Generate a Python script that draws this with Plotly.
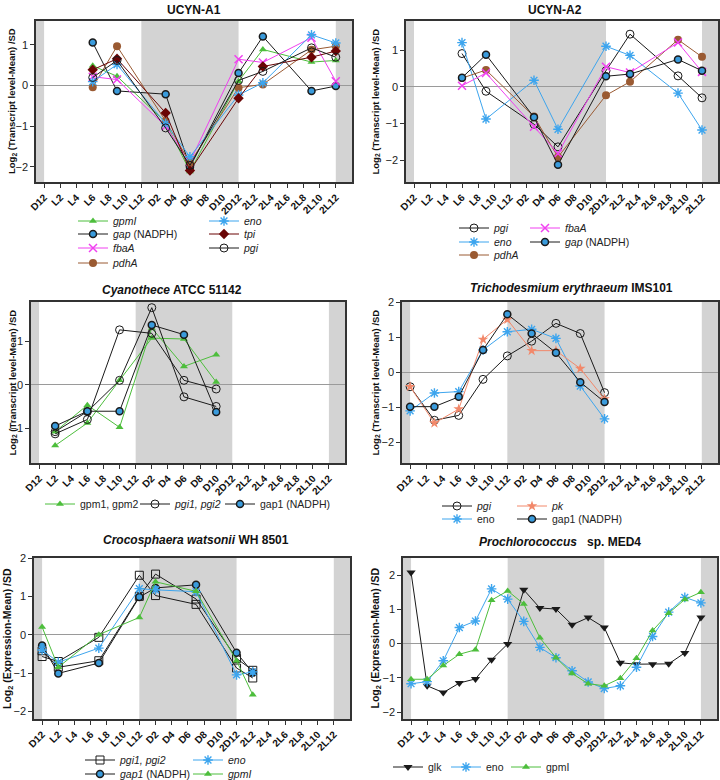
import plotly.graph_objects as go

W, H = 720, 780

# ---------------- data ----------------
tick_hours = [0, 2, 4, 6, 8, 10, 12, 14, 16, 18, 20, 22, 24, 26, 28, 30, 32, 34, 36]
tick_labels = ["D12", "L2", "L4", "L6", "L8", "L10", "L12", "D2", "D4", "D6", "D8",
               "D10", "2D12", "2L2", "2L4", "2L6", "2L8", "2L10", "2L12"]
dark_start = [-1, 12, 36]
dark_end = [0, 24, 38]

# UCYN-A1
a1_hours = [6, 9, 15, 18, 24, 27, 33, 36]
a1_gpmI = [0.49, 0.23, -0.90, -2.11, 0.11, 0.89, 0.58, 0.62]
a1_gap = [1.06, -0.13, -0.21, -2.00, 0.31, 1.21, -0.13, -0.01]
a1_fbaA = [0.22, 0.15, -1.00, -1.88, 0.65, 0.57, 1.18, 0.11]
a1_pdhA = [-0.04, 0.97, -0.87, -1.90, -0.05, 0.03, 0.88, 0.97]
a1_eno = [0.10, 0.52, -0.93, -1.75, -0.23, 0.07, 1.25, 1.05]
a1_tpi = [0.39, 0.66, -0.67, -2.09, -0.31, 0.47, 0.70, 0.85]
a1_pgi = [0.20, 0.62, -1.04, -1.96, 0.13, 0.35, 0.93, 0.70]

# UCYN-A2
a2_hours = [6, 9, 15, 18, 24, 27, 33, 36]
a2_pgi = [0.91, -0.12, -1.02, -1.64, 0.44, 1.44, 0.30, -0.30]
a2_eno = [1.21, -0.88, 0.18, -1.16, 1.11, 0.86, -0.17, -1.18]
a2_pdhA = [0.24, 0.46, -0.81, -1.92, -0.23, 0.14, 1.29, 0.82]
a2_fbaA = [0.03, 0.38, -1.09, -1.82, 0.55, 0.39, 1.21, 0.41]
a2_gap = [0.25, 0.88, -0.83, -2.13, 0.29, 0.35, 0.75, 0.44]

# Cyanothece ATCC 51142
cy_hours = [2, 6, 10, 14, 18, 22]
cy_gpm1 = [-1.08, -0.47, -0.98, 1.30, 0.42, 0.69]
cy_gpm2 = [-1.40, -0.88, 0.10, 1.07, 1.05, 0.06]
cy_pgi1 = [-1.13, -0.80, 1.26, 1.18, 0.10, -0.10]
cy_pgi2 = [-1.08, -0.62, 0.10, 1.77, -0.28, -0.50]
cy_gap1 = [-0.95, -0.61, -0.61, 1.37, 1.15, -0.63]

# Trichodesmium erythraeum IMS101
tr_hours = [0, 3, 6, 9, 12, 15, 18, 21, 24]
tr_pgi = [-0.42, -1.38, -1.24, -0.21, 0.46, 0.88, 1.39, 1.10, -0.59]
tr_eno = [-1.11, -0.60, -0.56, 0.63, 1.15, 1.22, 0.96, -0.40, -1.34]
tr_pk = [-0.42, -1.46, -1.06, 0.93, 1.50, 0.61, 0.61, 0.10, -0.77]
tr_gap1 = [-0.99, -0.99, -0.71, 0.63, 1.65, 1.10, 0.55, -0.29, -0.86]

# Crocosphaera watsonii WH 8501
cr_hours = [0, 2, 7, 12, 14, 19, 24, 26]
cr_pgi1 = [-0.57, -0.70, -0.07, 1.55, 1.02, 0.79, -0.87, -1.13]
cr_pgi2 = [-0.42, -0.85, -0.68, 1.00, 1.58, 0.93, -0.62, -0.93]
cr_gap1 = [-0.28, -1.01, -0.74, 0.98, 1.22, 1.30, -0.47, -0.99]
cr_eno = [-0.40, -0.72, -0.35, 1.20, 1.17, 1.12, -1.05, -0.97]
cr_gpmI = [0.20, -0.85, 0.00, 0.45, 1.38, 1.13, -0.68, -1.57]

# Prochlorococcus sp. MED4
pr_hours = [0, 2, 4, 6, 8, 10, 12, 14, 16, 18, 20, 22, 24, 26, 28, 30, 32, 34, 36]
pr_glk = [2.08, -1.23, -1.43, -1.15, -1.03, -0.47, -0.01, 1.57, 1.04, 1.01, 0.55, 0.76,
          0.47, -0.56, -0.60, -0.60, -0.59, -0.27, 0.76]
pr_eno = [-1.17, -1.11, -0.50, 0.47, 0.66, 1.60, 1.30, 0.65, -0.11, -0.41, -0.79, -1.12,
          -1.31, -1.23, -0.69, 0.21, 0.92, 1.35, 1.19]
pr_gpmI = [-1.04, -1.04, -0.64, -0.31, -0.18, 1.27, 1.54, 1.16, 0.17, -0.41, -0.87, -1.17,
           -1.23, -1.01, -0.43, 0.38, 0.89, 1.29, 1.50]

# ---------------- styles ----------------
FONT = "Arial, Liberation Sans, sans-serif"
GREEN = "#4DBE3C"
BLUE = "#3DA5EE"
MAG = "#F040F0"
BROWN = "#9A5A32"
DRED = "#6A0505"
BLK = "#1A1A1A"
SALMON = "#F2886A"
SHADE = "#D3D3D3"

STY = {
    "gpm": dict(mode="lines+markers", line=dict(color=GREEN, width=1),
                marker=dict(symbol="triangle-up", size=7, color=GREEN)),
    "gap": dict(mode="lines+markers", line=dict(color=BLK, width=1),
                marker=dict(symbol="circle", size=7, color="#3A9BDC", line=dict(color=BLK, width=1.5))),
    "fbaA": dict(mode="lines+markers", line=dict(color=MAG, width=1),
                 marker=dict(symbol="x-thin-open", size=8, color=MAG, line=dict(width=1.5))),
    "pdhA": dict(mode="lines+markers", line=dict(color=BROWN, width=1),
                 marker=dict(symbol="circle", size=8, color=BROWN)),
    "eno": dict(mode="lines+markers", line=dict(color=BLUE, width=1),
                marker=dict(symbol="asterisk-open", size=8, color=BLUE, line=dict(width=1.4))),
    "tpi": dict(mode="lines+markers", line=dict(color=DRED, width=1),
                marker=dict(symbol="diamond", size=8, color=DRED)),
    "pgi": dict(mode="lines+markers", line=dict(color=BLK, width=1),
                marker=dict(symbol="circle-open", size=8, color=BLK, line=dict(width=1))),
    "pk": dict(mode="lines+markers", line=dict(color=SALMON, width=1),
               marker=dict(symbol="star", size=8, color=SALMON)),
    "glk": dict(mode="lines+markers", line=dict(color=BLK, width=1),
                marker=dict(symbol="triangle-down", size=8, color=BLK)),
    "pgisq": dict(mode="lines+markers", line=dict(color=BLK, width=1),
                  marker=dict(symbol="square-open", size=8, color=BLK, line=dict(width=1))),
}

YT_TR = "Log<sub>2</sub> (Transcript level-Mean) /SD"
YT_EX = "Log<sub>2</sub> (Expression-Mean) /SD"

panels = [
    dict(x0=36, x1=352, y0=21, y1=182, yr=[-2.37, 1.59], title="UCYN-A1", tx=194, ty=10,
         yt=YT_TR, ytx=12.5, yts=9.5),
    dict(x0=406, x1=718, y0=21, y1=182, yr=[-2.6, 1.8], title="UCYN-A2", tx=555, ty=10,
         yt=YT_TR, ytx=376, yts=9.5),
    dict(x0=31, x1=345, y0=302, y1=463, yr=[-1.8, 1.9], title="<i>Cyanothece</i> ATCC 51142",
         tx=172, ty=290, yt=YT_TR, ytx=12, yts=9.5),
    dict(x0=402, x1=718, y0=302, y1=463, yr=[-2.6, 2.0],
         title="<i>Trichodesmium erythraeum</i> IMS101", tx=571, ty=288, yt=YT_TR, ytx=375, yts=9.5),
    dict(x0=34, x1=350, y0=558, y1=719, yr=[-2.2, 2.0],
         title="<i>Crocosphaera watsonii</i> WH 8501", tx=196, ty=540, yt=YT_EX, ytx=7.5, yts=10.5),
    dict(x0=403, x1=717, y0=558, y1=719, yr=[-2.2, 2.5],
         title="<i>Prochlorococcus</i>\u00a0\u00a0 sp. MED4", tx=560, ty=542, yt=YT_EX, ytx=375, yts=10.5),
]

# series: (panel, style, name, x, y, legend position (text_x, center_y) or None)
series = [
    (0, "gpm", "<i>gpmI</i>", a1_hours, a1_gpmI, (113, 221)),
    (0, "gap", "<i>gap</i> (NADPH)", a1_hours, a1_gap, (113, 234)),
    (0, "fbaA", "<i>fbaA</i>", a1_hours, a1_fbaA, (113, 248)),
    (0, "pdhA", "<i>pdhA</i>", a1_hours, a1_pdhA, (113, 263)),
    (0, "eno", "<i>eno</i>", a1_hours, a1_eno, (244, 221)),
    (0, "tpi", "<i>tpi</i>", a1_hours, a1_tpi, (244, 234)),
    (0, "pgi", "<i>pgi</i>", a1_hours, a1_pgi, (244, 248)),

    (1, "pgi", "<i>pgi</i>", a2_hours, a2_pgi, (494, 228)),
    (1, "eno", "<i>eno</i>", a2_hours, a2_eno, (494, 242)),
    (1, "pdhA", "<i>pdhA</i>", a2_hours, a2_pdhA, (494, 255)),
    (1, "fbaA", "<i>fbaA</i>", a2_hours, a2_fbaA, (565, 228)),
    (1, "gap", "<i>gap</i> (NADPH)", a2_hours, a2_gap, (565, 242)),

    (2, "gpm", "gpm1, gpm2", cy_hours, cy_gpm1, (80, 504)),
    (2, "gpm", "gpm2", cy_hours, cy_gpm2, None),
    (2, "pgi", "<i>pgi1, pgi2</i>", cy_hours, cy_pgi1, (175, 504)),
    (2, "pgi", "pgi2", cy_hours, cy_pgi2, None),
    (2, "gap", "gap1 (NADPH)", cy_hours, cy_gap1, (260, 504)),

    (3, "pgi", "<i>pgi</i>", tr_hours, tr_pgi, (477, 506)),
    (3, "eno", "eno", tr_hours, tr_eno, (477, 519)),
    (3, "pk", "<i>pk</i>", tr_hours, tr_pk, (552, 506)),
    (3, "gap", "gap1 (NADPH)", tr_hours, tr_gap1, (552, 519)),

    (4, "pgisq", "<i>pgi1, pgi2</i>", cr_hours, cr_pgi1, (120, 760)),
    (4, "pgisq", "pgi2", cr_hours, cr_pgi2, None),
    (4, "gap", "<i>gap1</i> (NADPH)", cr_hours, cr_gap1, (120, 774)),
    (4, "eno", "<i>eno</i>", cr_hours, cr_eno, (228, 760)),
    (4, "gpm", "<i>gpmI</i>", cr_hours, cr_gpmI, (228, 774)),

    (5, "glk", "glk", pr_hours, pr_glk, (428, 767)),
    (5, "eno", "eno", pr_hours, pr_eno, (486, 767)),
    (5, "gpm", "gpmI", pr_hours, pr_gpmI, (546, 767)),
]

fig = go.Figure()
layout_upd = {}
annotations = []
shapes = []

for i, p in enumerate(panels):
    n = "" if i == 0 else str(i + 1)
    layout_upd["xaxis" + n] = dict(
        domain=[p["x0"] / W, p["x1"] / W], anchor="y" + n, range=[-1, 38],
        tickmode="array", tickvals=tick_hours, ticktext=tick_labels, tickangle=-45,
        tickfont=dict(family=FONT, size=10, color="#111", weight="bold"),
        ticks="outside", ticklen=4, tickwidth=1, tickcolor="#333",
        showline=True, mirror=True, linecolor="#333", linewidth=1.5,
        showgrid=False, zeroline=False, fixedrange=True, automargin=False)
    layout_upd["yaxis" + n] = dict(
        domain=[1 - p["y1"] / H, 1 - p["y0"] / H], anchor="x" + n, range=p["yr"],
        dtick=1, tickfont=dict(family=FONT, size=11, color="#222"),
        ticks="outside", ticklen=4, tickwidth=1, tickcolor="#333",
        showline=True, mirror=True, linecolor="#333", linewidth=1.5,
        showgrid=False, zeroline=True, zerolinecolor="#9a9a9a", zerolinewidth=1,
        fixedrange=True, automargin=False)
    for s, e in zip(dark_start, dark_end):
        shapes.append(dict(type="rect", xref="x" + n, yref="y" + n + " domain",
                           x0=s, x1=e, y0=0, y1=1, fillcolor=SHADE,
                           line=dict(width=0), layer="below"))
    annotations.append(dict(text="<b>" + p["title"] + "</b>", xref="paper", yref="paper",
                            x=p["tx"] / W, y=1 - p["ty"] / H, xanchor="center", yanchor="middle",
                            showarrow=False, font=dict(family=FONT, size=12, color="#111")))
    annotations.append(dict(text="<b>" + p["yt"] + "</b>", xref="paper", yref="paper",
                            x=p["ytx"] / W, y=1 - (p["y0"] + p["y1"]) / 2 / H,
                            xanchor="center", yanchor="middle", textangle=-90,
                            showarrow=False, font=dict(family=FONT, size=p["yts"], color="#111")))

leg_count = 0
for (pi, sty, name, xs, ys, lpos) in series:
    n = "" if pi == 0 else str(pi + 1)
    kw = dict(STY[sty])
    tr = go.Scatter(x=xs, y=ys, name=name, xaxis="x" + n, yaxis="y" + n, **kw)
    if lpos is None:
        tr.showlegend = False
    else:
        leg_count += 1
        lid = "legend" if leg_count == 1 else "legend%d" % leg_count
        tr.legend = lid
        tr.showlegend = True
        layout_upd[lid] = dict(x=(lpos[0] - 40) / W, y=1 - lpos[1] / H,
                               xanchor="left", yanchor="middle",
                               bgcolor="rgba(0,0,0,0)", borderwidth=0,
                               font=dict(family=FONT, size=10.5, color="#222"),
                               itemwidth=30)
    fig.add_trace(tr)

fig.update_layout(template="none")
fig.update_layout(**layout_upd)
fig.update_layout(width=W, height=H, margin=dict(l=0, r=0, t=0, b=0, autoexpand=False),
                  paper_bgcolor="white", plot_bgcolor="white",
                  annotations=annotations, shapes=shapes,
                  font=dict(family=FONT), hovermode="closest")

fig.write_html("out.html", config={"displayModeBar": False},
               post_script="document.body.style.margin='0';document.body.style.padding='0';")
